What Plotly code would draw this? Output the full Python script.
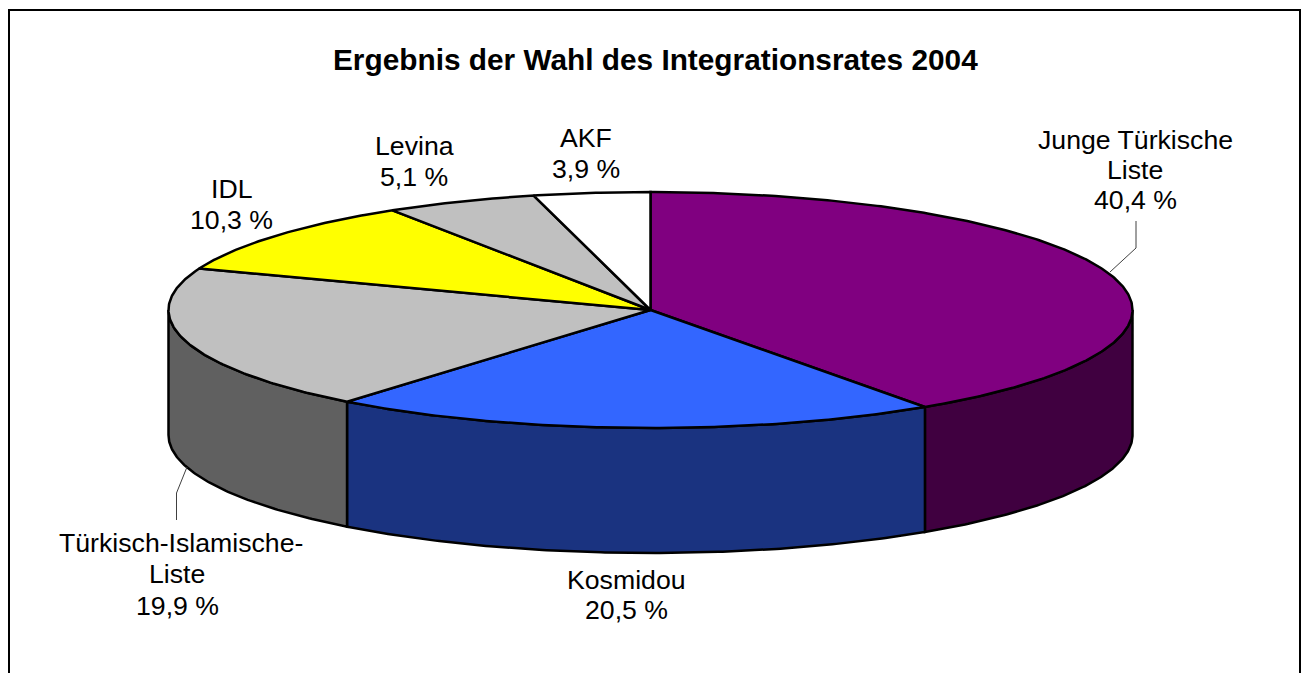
import numpy as np
import plotly.graph_objects as go

# --- data ---
parties = ["Junge Türkische Liste", "Kosmidou", "Türkisch-Islamische-Liste", "IDL", "Levina", "AKF"]
shares = [40.4, 20.5, 19.9, 10.3, 5.1, 3.9]
share_labels = ["40,4 %", "20,5 %", "19,9 %", "10,3 %", "5,1 %", "3,9 %"]
top_colors = ["#800080", "#3366FF", "#C0C0C0", "#FFFF00", "#C0C0C0", "#FFFFFF"]
side_colors = ["#400040", "#1A3380", "#606060", "#808000", "#606060", "#808080"]
title_text = "Ergebnis der Wahl des Integrationsrates 2004"

# --- geometry of the projected pie ---
CX, CY, RX, RY, DEPTH = 650.5, 310.0, 482.0, 118.0, 125.0
W, H = 1302, 673
FONT = "Liberation Sans, Arial, sans-serif"


def rim(a0, a1, dy=0.0, step=0.5):
    n = max(2, int(abs(a1 - a0) / step) + 1)
    t = np.radians(np.linspace(a0, a1, n))
    return CX + RX * np.sin(t), CY - RY * np.cos(t) + dy


total = sum(shares)
edges = np.concatenate([[0], np.cumsum(shares) / total * 360])

fig = go.Figure()
LINE = dict(color="black", width=2.5)

# side walls (only the front half, 90..270 degrees)
for i in range(len(shares)):
    a0, a1 = max(edges[i], 90), min(edges[i + 1], 270)
    if a1 <= a0:
        continue
    xt, yt = rim(a0, a1)
    xb, yb = rim(a1, a0, DEPTH)
    fig.add_trace(go.Scatter(
        x=np.concatenate([xt, xb, xt[:1]]), y=np.concatenate([yt, yb, yt[:1]]),
        mode="lines", fill="toself", fillcolor=side_colors[i], line=LINE,
        hoverinfo="skip", showlegend=False))

# top slices
for i in range(len(shares)):
    xt, yt = rim(edges[i], edges[i + 1])
    fig.add_trace(go.Scatter(
        x=np.concatenate([[CX], xt, [CX]]), y=np.concatenate([[CY], yt, [CY]]),
        mode="lines", fill="toself", fillcolor=top_colors[i], line=LINE,
        name=parties[i], text=share_labels[i], hoverinfo="name+text", showlegend=False))

# leader lines
LEADER = dict(color="#404040", width=1)
fig.add_trace(go.Scatter(x=[1110, 1136, 1136], y=[272, 248, 221], mode="lines", line=LEADER,
                         hoverinfo="skip", showlegend=False))
fig.add_trace(go.Scatter(x=[187, 176.5, 176.5], y=[467, 493, 520], mode="lines", line=LEADER,
                         hoverinfo="skip", showlegend=False))

# frame
fig.add_shape(type="path", path="M 9 673 L 9 10 L 1300 10 L 1300 673", xref="x", yref="y",
              line=dict(color="black", width=2))

# labels: one entry per text line, (x, y)
label_layout = [
    ([1135, 1135, 1135], [140, 170, 200], ["Junge Türkische", "Liste"]),
    ([626, 626], [580, 610], ["Kosmidou"]),
    ([181, 177, 177], [543, 574, 606], ["Türkisch-Islamische-", "Liste"]),
    ([231, 231], [189, 220], ["IDL"]),
    ([414, 414], [146, 177], ["Levina"]),
    ([586, 586], [138, 169], ["AKF"]),
]
for (xs, ys, lines), lab in zip(label_layout, share_labels):
    for x, y, txt in zip(xs, ys, lines + [lab]):
        fig.add_annotation(x=x, y=y, text=txt, showarrow=False, xref="x", yref="y",
                           xanchor="center", yanchor="middle",
                           font=dict(family=FONT, size=26.67, color="black"))

fig.add_annotation(x=655, y=59, text=f"<b>{title_text}</b>", showarrow=False, xref="x", yref="y",
                   xanchor="center", yanchor="middle",
                   font=dict(family=FONT, size=29.8, color="black"))

fig.update_layout(
    width=W, height=H, margin=dict(l=0, r=0, t=0, b=0),
    paper_bgcolor="white", plot_bgcolor="white",
    xaxis=dict(range=[0, W], visible=False, fixedrange=True),
    yaxis=dict(range=[H, 0], visible=False, fixedrange=True),
)
fig.write_html("out.html", config={"displayModeBar": False},
               post_script="document.body.style.margin='0';document.body.style.overflow='hidden';")
